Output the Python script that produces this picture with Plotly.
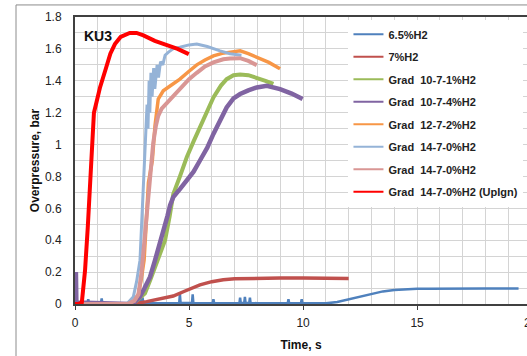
import plotly.graph_objects as go

# ---------------- data (time in s, overpressure in bar) ----------------
t_65 = [0, 0.3, 0.55, 0.58, 0.62, 0.9, 1.14, 1.17, 1.2, 1.6, 2.0, 2.4, 2.82, 2.85, 2.88, 2.93, 2.96, 3.0,
        3.3, 3.7, 4.1, 4.57, 4.6, 4.63, 4.9, 5.13, 5.16, 5.19, 5.5, 5.8, 6.04, 6.07, 6.1, 6.4, 6.8,
        7.21, 7.24, 7.27, 7.42, 7.45, 7.48, 7.64, 7.67, 7.7, 8.0, 8.4, 8.7, 9.0, 9.33, 9.36, 9.39,
        9.7, 9.91, 9.94, 9.97, 10.3, 10.7, 11.0, 11.5, 12.0, 12.5, 13.0, 13.5, 14.0, 14.5, 15.0,
        15.5, 16.0, 17.0, 18.0, 19.0, 19.45]
p_65 = [0.01, 0.004, 0.005, 0.03, 0.005, 0.004, 0.006, 0.035, 0.005, 0.004, 0.006, 0.005, 0.006, 0.046,
        0.006, 0.005, 0.04, 0.005,
        0.004, 0.006, 0.005, 0.006, 0.062, 0.006, 0.005, 0.007, 0.06, 0.006, 0.005, 0.006, 0.006, 0.03,
        0.006, 0.005, 0.006,
        0.006, 0.04, 0.006, 0.006, 0.045, 0.006, 0.006, 0.04, 0.006, 0.005, 0.006, 0.005, 0.005, 0.005,
        0.03, 0.005,
        0.005, 0.005, 0.03, 0.005, 0.004, 0.004, 0.004, 0.012, 0.028, 0.045, 0.064, 0.079, 0.088, 0.093,
        0.095, 0.096, 0.097, 0.097, 0.097, 0.097, 0.097]

t_7 = [0, 2.6, 3.14, 3.7, 4.31, 4.8, 5.48, 6.0, 6.5, 7.0, 8.0, 9.0, 10.0, 11.0, 12.0]
p_7 = [0.0, 0.002, 0.015, 0.03, 0.05, 0.08, 0.12, 0.14, 0.152, 0.158, 0.162, 0.163, 0.163, 0.162, 0.16]

t_g1 = [0, 2.4, 2.7, 3.07, 3.3, 3.61, 3.8, 3.95, 4.15, 4.31, 4.6, 4.9, 5.2, 5.48, 5.8, 6.07, 6.4,
        6.65, 6.95, 7.24, 7.6, 7.97, 8.35, 8.7]
p_g1 = [0.0, 0.0, 0.02, 0.067, 0.15, 0.275, 0.34, 0.40, 0.55, 0.69, 0.80, 0.92, 1.02, 1.11, 1.21,
        1.296, 1.37, 1.41, 1.435, 1.44, 1.435, 1.42, 1.40, 1.38]

t_g4 = [0, 0.04, 0.06, 2.4, 2.6, 2.85, 3.05, 3.29, 3.5, 3.73, 3.87, 4.05, 4.17, 4.31, 4.6, 4.9, 5.2,
        5.48, 5.8, 6.07, 6.35, 6.65, 6.95, 7.24, 7.6, 7.97, 8.41, 8.99, 9.5, 9.98]
p_g4 = [0.0, 0.2, 0.01, 0.0, 0.01, 0.046, 0.10, 0.17, 0.27, 0.38, 0.45, 0.55, 0.62, 0.67, 0.72, 0.775,
        0.83, 0.90, 0.98, 1.067, 1.15, 1.233, 1.29, 1.317, 1.34, 1.358, 1.369, 1.348, 1.32, 1.286]

t_g12 = [0, 2.3, 2.6, 2.78, 2.9, 3.03, 3.12, 3.22, 3.39, 3.51, 3.65, 3.87, 4.2, 4.6, 5.0, 5.34, 5.7,
         6.07, 6.45, 6.8, 7.24, 7.6, 7.97, 8.5, 8.99]
p_g12 = [0.0, 0.0, 0.02, 0.06, 0.15, 0.275, 0.5, 0.76, 0.9, 1.12, 1.285, 1.3375, 1.37, 1.41, 1.46,
         1.50, 1.53, 1.556, 1.572, 1.58, 1.5875, 1.57, 1.546, 1.515, 1.475]

t_g14a = [0, 2.27, 2.56, 2.7, 2.85, 2.92, 3.0, 3.07, 3.12, 3.16, 3.2, 3.25, 3.28, 3.33, 3.38, 3.45,
          3.5, 3.6, 3.66, 3.75, 3.85, 3.95, 4.1, 4.3, 4.6, 5.0, 5.34, 5.8, 6.36, 6.8, 7.3]
p_g14a = [0.0, 0.0, 0.046, 0.14, 0.275, 0.48, 0.69, 0.9, 1.05, 1.25, 1.1, 1.4, 1.2, 1.45, 1.3, 1.48,
          1.35, 1.5, 1.42, 1.52, 1.5, 1.56, 1.58, 1.60, 1.61, 1.625, 1.63, 1.615, 1.5875, 1.57, 1.56]

t_g14b = [0, 2.3, 2.6, 2.78, 2.92, 3.05, 3.15, 3.25, 3.36, 3.43, 3.55, 3.65, 3.8, 4.02, 4.3, 4.6,
          5.0, 5.34, 5.7, 6.07, 6.5, 6.8, 7.24, 7.6, 7.97]
p_g14b = [0.0, 0.0, 0.02, 0.06, 0.2, 0.4, 0.6, 0.76, 0.9, 1.01, 1.12, 1.18, 1.225, 1.26, 1.30, 1.35,
          1.41, 1.45, 1.49, 1.515, 1.535, 1.54, 1.542, 1.525, 1.498]

t_up = [0, 0.15, 0.3, 0.44, 0.56, 0.69, 0.83, 0.95, 1.1, 1.36, 1.55, 1.75, 2.0, 2.4, 2.7, 3.0, 3.5,
        4.0, 4.5, 4.99]
p_up = [0.0, 0.0, 0.01, 0.21, 0.48, 0.84, 1.2, 1.27, 1.36, 1.48, 1.57, 1.63, 1.675, 1.70, 1.70,
        1.685, 1.65, 1.625, 1.60, 1.567]

names = ["6.5%H2", "7%H2", "Grad\u00a0 10-7-1%H2", "Grad\u00a0 10-7-4%H2", "Grad\u00a0 12-7-2%H2",
         "Grad\u00a0 14-7-0%H2", "Grad\u00a0 14-7-0%H2", "Grad\u00a0 14-7-0%H2 (UpIgn)"]
colors = ["#4F81BD", "#C0504D", "#9BBB59", "#8064A2", "#F79646", "#95B3D7", "#D99694", "#FF0000"]
widths = [2.5, 3.5, 4, 4.5, 3.5, 3, 4, 4]
xs = [t_65, t_7, t_g1, t_g4, t_g12, t_g14a, t_g14b, t_up]
ys = [p_65, p_7, p_g1, p_g4, p_g12, p_g14a, p_g14b, p_up]

FONT = "Liberation Sans"

fig = go.Figure()
for i in range(len(names)):
    fig.add_trace(go.Scatter(x=xs[i], y=ys[i], mode="lines", showlegend=False,
                             line=dict(color=colors[i], width=widths[i]), hoverinfo="skip"))
for i in range(len(names)):
    fig.add_trace(go.Scatter(x=[None], y=[None], mode="lines", name=names[i], legendgroup=str(i),
                             line=dict(color=colors[i], width=2)))

fig.update_layout(
    width=527, height=356,
    margin=dict(l=75, r=0, t=17, b=52),
    paper_bgcolor="white", plot_bgcolor="white",
    font=dict(family=FONT, size=12, color="#222222"),
    showlegend=True,
    legend=dict(x=0.605, y=0.99, xanchor="left", yanchor="top", bgcolor="white",
                font=dict(family=FONT, size=11, color="#222222", weight="bold"),
                tracegroupgap=3.5, itemwidth=30),
    xaxis=dict(range=[0, 19.82], tickmode="array", tickvals=[0, 5, 10, 15],
               ticktext=["0", "5", "10", "15"],
               showgrid=True, gridcolor="#d4d4d4", gridwidth=1,
               minor=dict(dtick=1, showgrid=True, gridcolor="#d4d4d4", gridwidth=1),
               showline=True, linecolor="#404040", linewidth=2, mirror=True,
               ticks="outside", ticklen=4, tickcolor="#404040", ticklabelstandoff=3,
               zeroline=False,
               title=dict(text="<b>Time, s</b>", font=dict(size=12, color="#111111"), standoff=11)),
    yaxis=dict(range=[0, 1.8], tickmode="array", tickvals=[0, 0.2, 0.4, 0.6, 0.8, 1, 1.2, 1.4, 1.6, 1.8],
               ticktext=["0", "0.2", "0.4", "0.6", "0.8", "1", "1.2", "1.4", "1.6", "1.8"],
               showgrid=True, gridcolor="#d4d4d4", gridwidth=1,
               minor=dict(dtick=0.1, showgrid=True, gridcolor="#d4d4d4", gridwidth=1),
               showline=True, linecolor="#404040", linewidth=2,
               ticks="", ticklabelstandoff=9, zeroline=False,
               title=dict(text="<b>Overpressure, bar</b>", font=dict(size=12, color="#111111"), standoff=3)),
    annotations=[
        dict(text="<b>KU3</b>", xref="paper", yref="paper", x=0.015, y=0.934, xanchor="left",
             yanchor="middle", showarrow=False, font=dict(family=FONT, size=14, color="#111111")),
        dict(text="20", xref="paper", yref="paper", x=20 / 19.82, y=0, xanchor="center",
             yanchor="top", yshift=-10, showarrow=False, font=dict(family=FONT, size=12, color="#222222")),
    ],
    shapes=[
        dict(type="rect", xref="paper", yref="paper", x0=-0.1305, x1=1.3, y0=-0.5, y1=1.042,
             line=dict(color="#8c8c8c", width=1), fillcolor="rgba(0,0,0,0)", layer="below"),
    ],
)

fig.write_html("out.html", config={"displayModeBar": False},
               post_script="document.body.style.margin='0';document.body.style.overflow='hidden';")
